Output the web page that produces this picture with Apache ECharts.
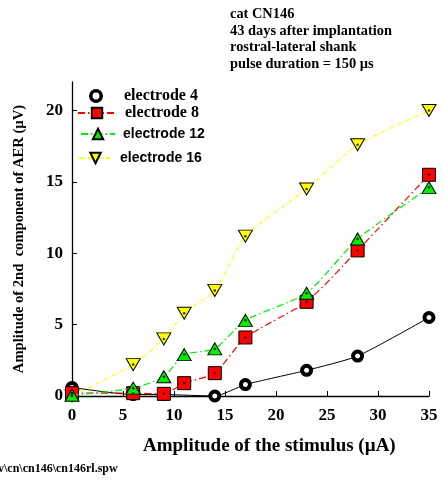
<!DOCTYPE html>
<html>
<head>
<meta charset="utf-8">
<script src="https://cdn.jsdelivr.net/npm/echarts@6/dist/echarts.min.js"></script>
<style>
  html, body { margin: 0; padding: 0; background: #fff; }
  #chart { width: 444px; height: 481px; }
</style>
</head>
<body>
<div id="chart"></div>
<script>
// Stimulus amplitudes (µA) at which each electrode was measured
const stimE4 = [0, 6, 9, 14, 17, 23, 28, 35];
const stimOthers = [0, 6, 9, 11, 14, 17, 23, 28, 35];

// AER 2nd component amplitudes (µV)
const electrode4 = [0.6, 0.1, 0.1, 0, 0.8, 1.8, 2.8, 5.5];
const electrode8 = [0.2, 0.2, 0.15, 0.9, 1.6, 4.1, 6.6, 10.2, 15.5];
const electrode12 = [0.05, 0.55, 1.35, 2.9, 3.3, 5.3, 7.2, 11.0, 14.6];
const electrode16 = [0, 2.2, 4.0, 5.8, 7.4, 11.2, 14.5, 17.6, 20.0];

const xTicks = [0, 5, 10, 15, 20, 25, 30, 35];
const yTicks = [0, 5, 10, 15, 20];

const infoLines = [
  'cat CN146',
  '43 days after implantation',
  'rostral-lateral shank',
  'pulse duration = 150 µs'
];

const serif = '"Liberation Serif", "Times New Roman", serif';
const sans = '"Liberation Sans", Arial, sans-serif';

const pairs = (xs, ys) => xs.map((x, i) => [x, ys[i]]);

const chart = echarts.init(document.getElementById('chart'));

function lineSeries(name, xs, ys, color, symbol, size, dash, z) {
  return {
    name: name,
    type: 'line',
    data: pairs(xs, ys),
    symbol: symbol,
    symbolSize: size,
    smooth: 0.2,
    z: z,
    lineStyle: { color: color, width: 1.2, type: dash },
    itemStyle: { color: color, borderColor: '#000', borderWidth: 1 },
    emphasis: { disabled: true },
    animation: false
  };
}

function dotSeries(xs, ys, z) {
  return {
    type: 'scatter',
    data: pairs(xs, ys),
    symbol: 'circle',
    symbolSize: 2.5,
    z: z,
    itemStyle: { color: '#000' },
    silent: true,
    animation: false
  };
}

function legendAt(name, left, top, width, font, size, pad, extra) {
  return Object.assign({
    data: [name],
    left: left,
    top: top,
    itemWidth: width,
    itemHeight: 13,
    selectedMode: false,
    padding: 0,
    textStyle: {
      fontFamily: font,
      fontWeight: 'bold',
      fontSize: size,
      color: '#000',
      padding: [0, 0, 0, pad]
    }
  }, extra || {});
}

const option = {
  backgroundColor: '#fff',
  animation: false,
  title: [
    {
      text: infoLines.join('\n'),
      left: 230,
      top: 6,
      padding: 0,
      textStyle: {
        fontFamily: serif,
        fontWeight: 'bold',
        fontSize: 14.4,
        lineHeight: 16.7,
        color: '#000'
      }
    },
    {
      text: 'Amplitude of the stimulus (µA)',
      left: 143,
      top: 437,
      padding: 0,
      textStyle: {
        fontFamily: serif,
        fontWeight: 'bold',
        fontSize: 19,
        color: '#000'
      }
    },
    {
      text: 'v\\cn\\cn146\\cn146rl.spw',
      left: -2,
      top: 463,
      padding: 0,
      textStyle: {
        fontFamily: serif,
        fontWeight: 'bold',
        fontSize: 12,
        color: '#000'
      }
    }
  ],
  legend: [
    legendAt('electrode 4', 76, 88, 38, serif, 16, 4, {
      lineStyle: { opacity: 0 },
      itemStyle: { borderWidth: 3.5, borderColor: '#000', color: '#fff' }
    }),
    legendAt('electrode 8', 77, 105, 38, serif, 16, 4),
    legendAt('electrode 12', 80, 127, 34, sans, 14, 3),
    legendAt('electrode 16', 78, 151, 33, sans, 14, 3)
  ],
  grid: {
    left: 72,
    right: 15,
    top: 82,
    bottom: 85,
    containLabel: false
  },
  xAxis: {
    type: 'value',
    min: 0,
    max: 35,
    interval: 5,
    axisLine: { show: true, lineStyle: { color: '#000', width: 1.3 } },
    axisTick: { show: true, inside: true, length: 5, lineStyle: { color: '#000' } },
    splitLine: { show: false },
    axisLabel: {
      color: '#000',
      fontFamily: serif,
      fontWeight: 'bold',
      fontSize: 17,
      margin: 11
    }
  },
  yAxis: {
    type: 'value',
    min: 0,
    max: 22,
    interval: 5,
    name: 'Amplitude of 2nd  component of AER (µV)',
    nameLocation: 'middle',
    nameRotate: 90,
    nameGap: 45,
    nameTextStyle: {
      fontFamily: serif,
      fontWeight: 'bold',
      fontSize: 14.6,
      color: '#000'
    },
    axisLine: { show: true, lineStyle: { color: '#000', width: 1.3 } },
    axisTick: {
      show: true,
      inside: true,
      length: 5,
      customValues: yTicks,
      lineStyle: { color: '#000' }
    },
    splitLine: { show: false },
    axisLabel: {
      color: '#000',
      fontFamily: serif,
      fontWeight: 'bold',
      fontSize: 17,
      margin: 9,
      customValues: yTicks
    }
  },
  series: [
    lineSeries('electrode 16', stimOthers, electrode16, '#ffff00', 'path://M0,0 L10,0 L5,9 Z', [14, 12], [4, 2, 1, 2], 2),
    lineSeries('electrode 4', stimE4, electrode4, '#000', 'circle', 9, 'solid', 3),
    lineSeries('electrode 8', stimOthers, electrode8, '#ff0000', 'rect', 13, [7, 3, 1.5, 3], 4),
    lineSeries('electrode 12', stimOthers, electrode12, '#00ee00', 'triangle', [14, 12], [7, 3, 1.5, 3], 5),
    dotSeries(stimOthers, electrode16, 6),
    dotSeries(stimOthers, electrode8, 6),
    dotSeries(stimOthers, electrode12, 6)
  ]
};

// the black circles are thick rings with a small white centre
option.series[1].itemStyle = { color: '#fff', borderColor: '#000', borderWidth: 4 };
option.series[1].lineStyle.width = 1;

chart.setOption(option);
</script>
</body>
</html>
